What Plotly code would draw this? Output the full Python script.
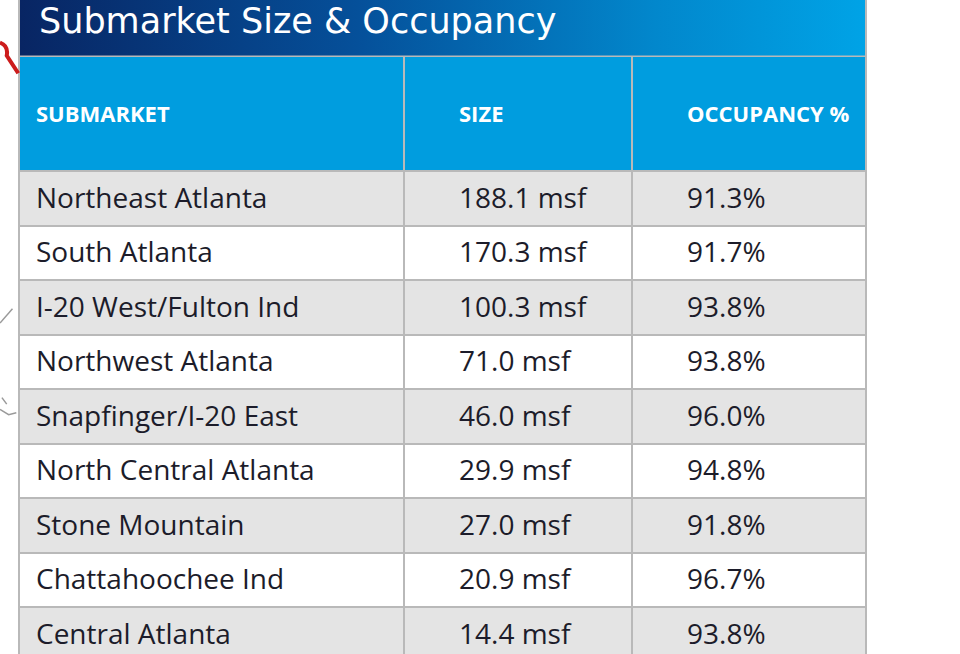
import plotly.graph_objects as go

title = "Submarket Size & Occupancy"
headers = ["SUBMARKET", "SIZE", "OCCUPANCY %"]
submarkets = ["Northeast Atlanta", "South Atlanta", "I-20 West/Fulton Ind",
              "Northwest Atlanta", "Snapfinger/I-20 East", "North Central Atlanta",
              "Stone Mountain", "Chattahoochee Ind", "Central Atlanta"]
size_msf = [188.1, 170.3, 100.3, 71.0, 46.0, 29.9, 27.0, 20.9, 14.4]
occupancy = [91.3, 91.7, 93.8, 93.8, 96.0, 94.8, 91.8, 96.7, 93.8]

# ---- layout constants (pixels) ----
W, H = 960, 654
COL_EDGES = [19, 404, 632, 866]      # column boundaries
TEXT_PAD = [17, 55, 55]              # left padding of text inside each column
TITLE_BOTTOM = 55.5
HEAD_TOP, HEAD_H, ROW_H = 56, 115, 54.5
TEXT_DY = 2.5                        # optical vertical offset of text in cells

size_txt = [f"{v:.1f} msf" for v in size_msf]
occ_txt = [f"{v:.1f}%" for v in occupancy]
columns = [submarkets, size_txt, occ_txt]

n = len(submarkets)
row_edges = [HEAD_TOP, HEAD_TOP + HEAD_H] + [HEAD_TOP + HEAD_H + ROW_H * (i + 1) for i in range(n)]
row_mid = [(row_edges[i + 1] + row_edges[i + 2]) / 2 + TEXT_DY for i in range(n)]
head_mid = (row_edges[0] + row_edges[1]) / 2 + TEXT_DY

# z: 2 = header, 1 = grey band, 0 = white band
z = [[2, 2, 2]] + [[1 if i % 2 == 0 else 0] * 3 for i in range(n)]

fig = go.Figure()

# table cells (grid lines come from the gaps showing the grey plot background)
fig.add_trace(go.Heatmap(
    x=COL_EDGES, y=row_edges, z=z, zmin=0, zmax=2,
    colorscale=[[0, "#ffffff"], [0.5, "#e4e4e4"], [1, "#009ddf"]],
    xgap=2, ygap=2, showscale=False, hoverinfo="skip",
))

# title bar with gradient
fig.add_trace(go.Scatter(
    x=[COL_EDGES[0] + 1, COL_EDGES[-1] - 1, COL_EDGES[-1] - 1, COL_EDGES[0] + 1, COL_EDGES[0] + 1],
    y=[0, 0, TITLE_BOTTOM, TITLE_BOTTOM, 0],
    mode="lines", line=dict(width=0), fill="toself",
    fillgradient=dict(type="horizontal",
                      colorscale=[[0, "#082563"], [0.4, "#05509a"], [0.75, "#0287cc"], [1, "#00a3e6"]]),
    hoverinfo="skip", showlegend=False,
))

# body text
for j, vals in enumerate(columns):
    fig.add_trace(go.Scatter(
        x=[COL_EDGES[j] + TEXT_PAD[j]] * n, y=row_mid, text=vals,
        mode="text", textposition="middle right",
        textfont=dict(family="Open Sans", size=28, color="#1c1c2a"),
        hoverinfo="skip", showlegend=False,
    ))

# header text
fig.add_trace(go.Scatter(
    x=[COL_EDGES[j] + TEXT_PAD[j] for j in range(3)], y=[head_mid] * 3,
    text=[f"<b>{h}</b>" for h in headers],
    mode="text", textposition="middle right",
    textfont=dict(family="Open Sans", size=22, color="white"),
    hoverinfo="skip", showlegend=False,
))

fig.add_annotation(x=COL_EDGES[0] + 18, y=20.5, xref="x", yref="y", text=title,
                   showarrow=False, xanchor="left", yanchor="middle",
                   font=dict(family="DejaVu Sans", size=35, color="white"))

fig.update_layout(
    width=W, height=H, margin=dict(l=0, r=0, t=0, b=0),
    paper_bgcolor="white", plot_bgcolor="#b9b9b9",
    xaxis=dict(range=[COL_EDGES[0] - 1, COL_EDGES[-1] + 1],
               domain=[(COL_EDGES[0] - 1) / W, (COL_EDGES[-1] + 1) / W],
               visible=False, fixedrange=True),
    yaxis=dict(range=[H, 0], domain=[0, 1], visible=False, fixedrange=True),
    shapes=[
        dict(type="path", xref="paper", yref="paper",
             path="M 0.0,0.935 Q 0.009,0.93 0.007,0.915 L 0.019,0.888",
             line=dict(color="#cc1c1c", width=4)),
        dict(type="path", xref="paper", yref="paper",
             path="M 0.0,0.506 L 0.013,0.528",
             line=dict(color="#9a9a9a", width=1.5)),
        dict(type="path", xref="paper", yref="paper",
             path="M 0.002,0.392 L 0.007,0.382 M 0.0,0.374 L 0.009,0.366 L 0.017,0.369",
             line=dict(color="#9a9a9a", width=1.5)),
    ],
)

fig.write_html("out.html", config={"displayModeBar": False},
               post_script="document.body.style.margin='0';")
